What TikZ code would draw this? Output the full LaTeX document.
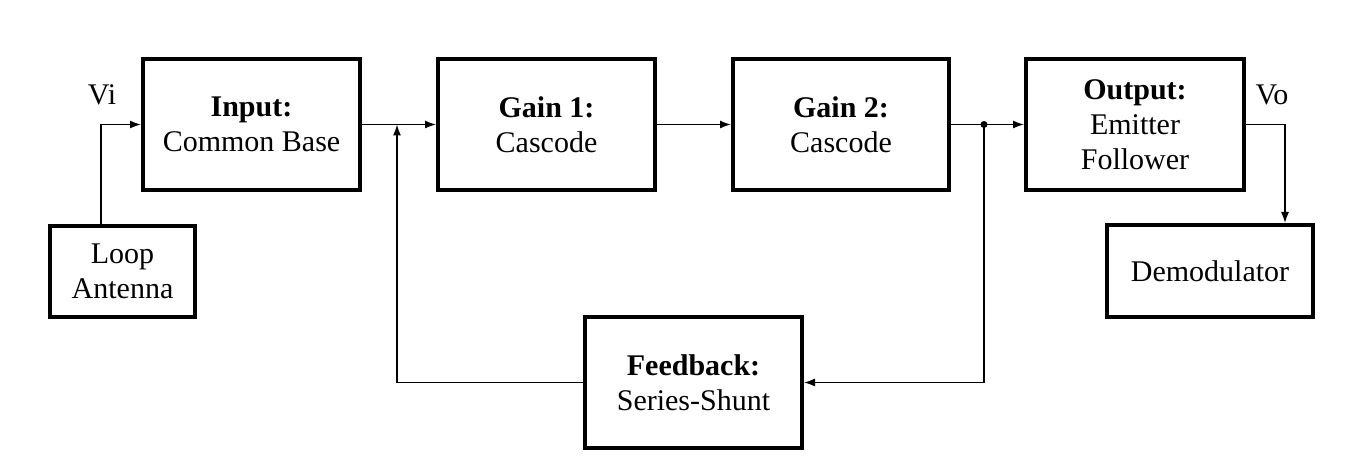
\documentclass[tikz,border=0pt]{standalone}
\usepackage{fontspec}
\setmainfont{Liberation Serif}
\usetikzlibrary{arrows.meta,calc}
\begin{document}
\begin{tikzpicture}[x=1pt,y=-1pt,
  blk/.style={draw=black, line width=4pt, align=center, inner sep=0pt,
    font=\fontsize{30}{35}\selectfont},
  conn/.style={line width=1.5pt, -{Latex[length=11pt,width=8pt]}},
  lbl/.style={font=\fontsize{30}{35}\selectfont, inner sep=0pt}]
\useasboundingbox (0,0) rectangle (1360,470);
\node[blk, minimum width=217pt, minimum height=131pt] (in) at (251.5,124.5) {\textbf{Input:}\\Common Base};
\node[blk, minimum width=217pt, minimum height=131pt] (g1) at (546.5,124.5) {\textbf{Gain 1:}\\Cascode};
\node[blk, minimum width=216pt, minimum height=131pt] (g2) at (841,124.5) {\textbf{Gain 2:}\\Cascode};
\node[blk, minimum width=218pt, minimum height=131pt] (out) at (1135,124.5) {\textbf{Output:}\\Emitter\\Follower};
\node[blk, minimum width=145pt, minimum height=91pt] (ant) at (122.5,271.5) {Loop\\Antenna};
\node[blk, minimum width=206pt, minimum height=92pt] (dem) at (1210,271) {Demodulator};
\node[blk, minimum width=217pt, minimum height=131pt] (fb) at (693.5,382.5) {\textbf{Feedback:}\\Series-Shunt};
\node[lbl] (vi) at (102,95) {Vi};
\node[lbl] (vo) at (1272,95) {Vo};
\coordinate (j1) at (397,124.5);
\coordinate (j2) at (984,124.5);
\draw[conn] ([xshift=-21.5pt]ant.north) |- (in.west);
\draw[conn] (in.east) -- (g1.west);
\draw[conn] (fb.west) -| (j1);
\draw[conn] (g1.east) -- (g2.west);
\draw[conn] (g2.east) -- (out.west);
\fill (j2) circle (3.5pt);
\draw[conn] (j2) |- (fb.east);
\draw[conn] (out.east) -| ([xshift=75pt]dem.north);
\end{tikzpicture}
\end{document}
